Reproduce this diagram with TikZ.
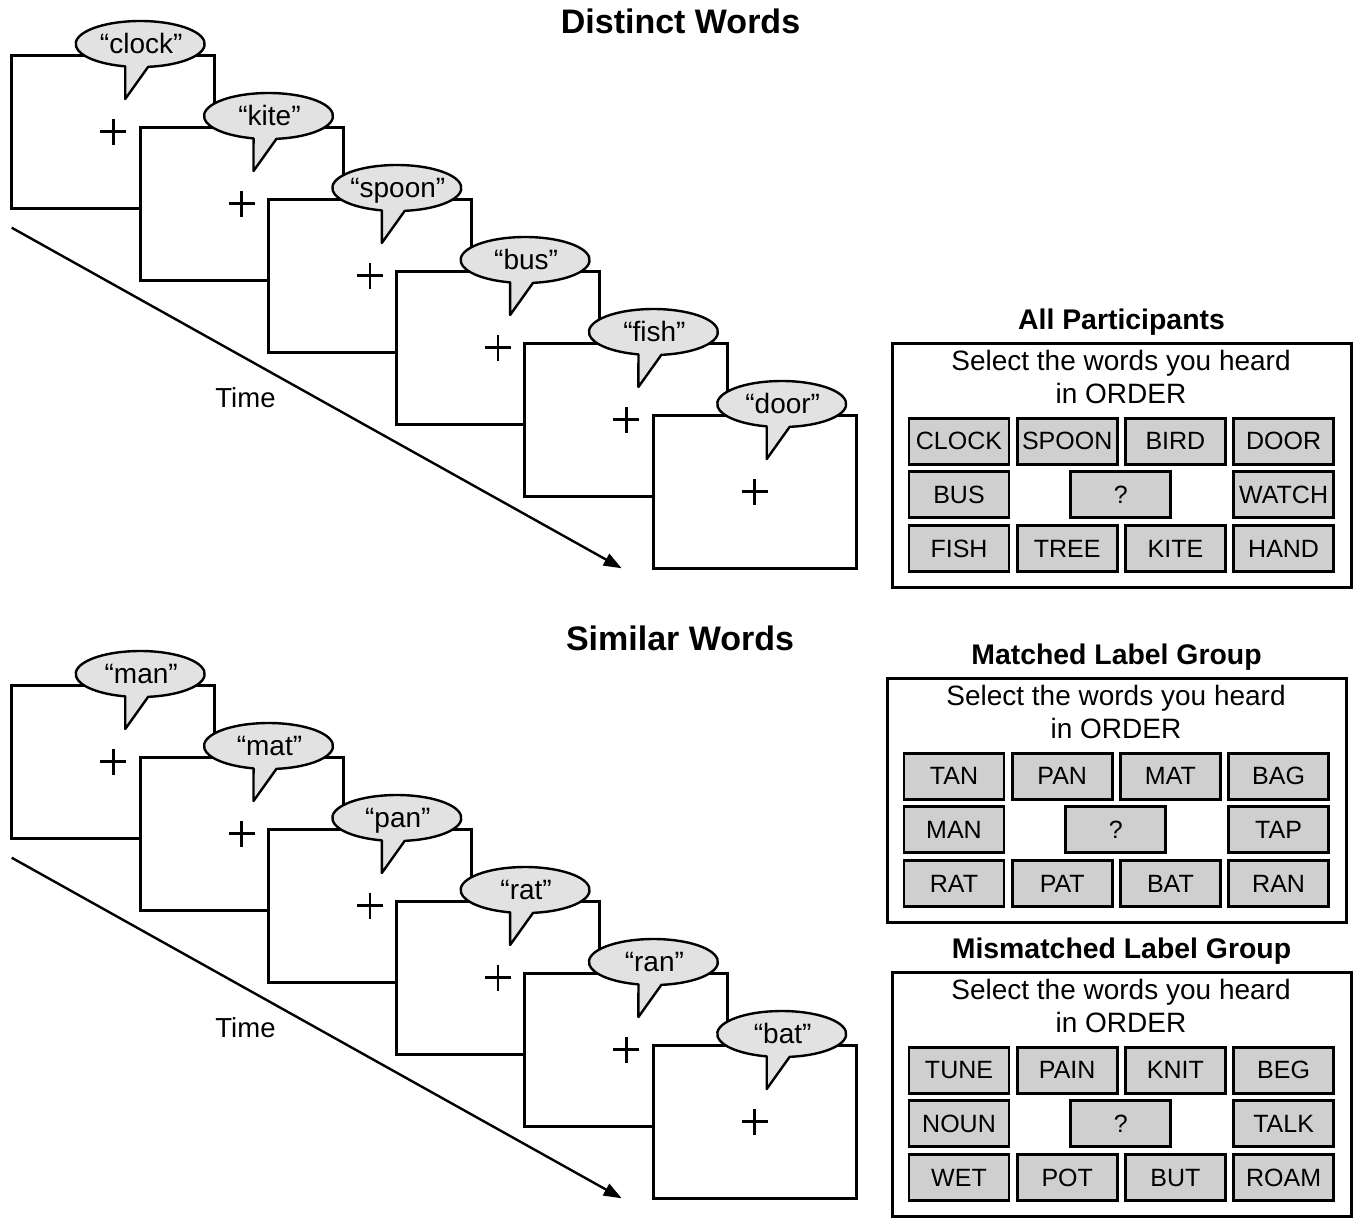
\documentclass[tikz,border=0pt]{standalone}
\usepackage{fontspec}
\setmainfont{Liberation Sans}
\usetikzlibrary{arrows.meta}
\definecolor{keyfill}{HTML}{CFCFCF}
\definecolor{bubblefill}{HTML}{E2E2E2}

% One row of six screens, each with a fixation cross and a spoken word
\newcommand\wordsequence[3]{%
  \coordinate (#1-t0) at (11.7,{227.7+#2});
  \coordinate (#1-t1) at (621.7,{568.3+#2});
  \draw[timeline] (#1-t0) -- (#1-t1);
  \node[timelabel] (#1-time) at (245.5,{407+#2}) {Time};
  \foreach \w [count=\i from 0] in {#3} {
    \begin{scope}[shift={({11.7+128.3*\i},{55+72*\i+#2})}]
      \node[screen] (#1-s\i) at (0,0) {};
      \draw[fixcross] ([xshift=-13pt]#1-s\i.center) -- ([xshift=13pt]#1-s\i.center)
                      ([yshift=-13pt]#1-s\i.center) -- ([yshift=13pt]#1-s\i.center);
      \path[bubble] ({128.5+64.5*cos(82.9)},{-11+23*sin(82.9)})
        arc[start angle=82.9, end angle=-256.6, x radius=64.5, y radius=23]
        -- (113.5,44) -- cycle;
      \node[bubbletext] (#1-w\i) at (129.5,-1.5) {“\w”};
    \end{scope}
  }%
}

% Response screen: title, prompt and a 4x3 grid of word keys
\newcommand\wordpanel[8]{%
  \begin{scope}[shift={(#2,#3)}]
    \node[paneltitle] (#1-title) at (1121.5,329) {#4};
    \node[panelbox] (#1-box) at (1121.75,465.5) {};
    \node[prompt] (#1-prompt1) at (1121,370) {Select the words you heard};
    \node[prompt] (#1-prompt2) at (1121,403) {in ORDER};
    \foreach \w [count=\j from 0] in {#5}
      \node[key] (#1-a\j) at ({959+108.2*\j},441.2) {\w};
    \node[key] (#1-b0) at (959,494.8) {#6};
    \node[key] (#1-q) at (1120.8,494.8) {?};
    \node[key] (#1-b3) at (1283.6,494.8) {#7};
    \foreach \w [count=\j from 0] in {#8}
      \node[key] (#1-c\j) at ({959+108.2*\j},548.7) {\w};
  \end{scope}%
}

\begin{document}
\begin{tikzpicture}[x=1pt,y=-1pt,
  screen/.style={draw, line width=3pt, fill=white, minimum width=203pt,
    minimum height=153.3pt, inner sep=0pt, outer sep=0pt, anchor=north west},
  fixcross/.style={line width=2.6pt},
  bubble/.style={draw, line width=2.4pt, fill=bubblefill, line join=round},
  bubbletext/.style={font=\fontsize{28}{28}\selectfont, inner sep=0pt, anchor=base},
  timeline/.style={line width=2.4pt, -{Triangle[length=18pt,width=13pt]}},
  timelabel/.style={font=\fontsize{27.5}{27.5}\selectfont, inner sep=0pt, anchor=base},
  heading/.style={font=\bfseries\fontsize{34}{34}\selectfont, inner sep=0pt, anchor=base},
  paneltitle/.style={font=\bfseries\fontsize{28.4}{28.4}\selectfont, inner sep=0pt, anchor=base},
  panelbox/.style={draw, line width=3pt, minimum width=458.5pt,
    minimum height=244.4pt, inner sep=0pt, outer sep=0pt},
  prompt/.style={font=\fontsize{28}{28}\selectfont, inner sep=0pt, anchor=base},
  key/.style={draw, line width=2.8pt, fill=keyfill, minimum width=100pt,
    minimum height=46pt, inner sep=0pt, outer sep=0pt, font=\fontsize{25}{25}\selectfont},
]
\useasboundingbox (0,0) rectangle (1356,1218);

\node[heading] (dw-head) at (680.5,33) {Distinct Words};
\wordsequence{dw}{0}{clock,kite,spoon,bus,fish,door}

\node[heading] (sw-head) at (680,650) {Similar Words};
\wordsequence{sw}{630}{man,mat,pan,rat,ran,bat}

\wordpanel{ap}{0}{0}{All Participants}{CLOCK,SPOON,BIRD,DOOR}{BUS}{WATCH}{FISH,TREE,KITE,HAND}
\wordpanel{ml}{-5}{335}{Matched Label Group}{TAN,PAN,MAT,BAG}{MAN}{TAP}{RAT,PAT,BAT,RAN}
\wordpanel{mm}{0}{629}{Mismatched Label Group}{TUNE,PAIN,KNIT,BEG}{NOUN}{TALK}{WET,POT,BUT,ROAM}
\end{tikzpicture}
\end{document}
